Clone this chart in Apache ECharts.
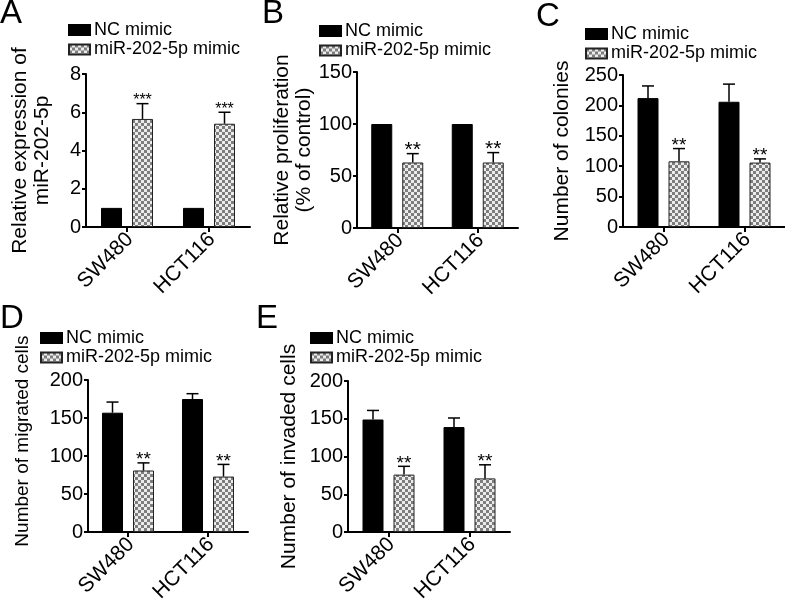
<!DOCTYPE html>
<html>
<head>
<meta charset="utf-8">
<script src="https://cdn.jsdelivr.net/npm/echarts@6/dist/echarts.min.js"></script>
<style>
html,body{margin:0;padding:0;background:#fff;}
#chart{width:785px;height:605px;}
</style>
</head>
<body>
<div id="chart"></div>
<script>
// ---------------- data ----------------
const categories = ['SW480', 'HCT116'];
const seriesNames = ['NC mimic', 'miR-202-5p mimic'];

// Panel A: Relative expression of miR-202-5p
const aTicks = [0, 2, 4, 6, 8];
const aNC = [1, 1];
const aNCErr = [0, 0];
const aMiR = [5.65, 5.4];
const aMiRErr = [0.8, 0.6];
const aStars = ['***', '***'];

// Panel B: Relative proliferation (% of control)
const bTicks = [0, 50, 100, 150];
const bNC = [100, 100];
const bNCErr = [0, 0];
const bMiR = [63, 63];
const bMiRErr = [8.5, 9.5];
const bStars = ['**', '**'];

// Panel C: Number of colonies
const cTicks = [0, 50, 100, 150, 200, 250];
const cNC = [212, 206];
const cNCErr = [20, 29];
const cMiR = [108, 106];
const cMiRErr = [21, 6];
const cStars = ['**', '**'];

// Panel D: Number of migrated cells
const dTicks = [0, 50, 100, 150, 200];
const dNC = [157, 175];
const dNCErr = [14, 7];
const dMiR = [81, 73];
const dMiRErr = [10, 16];
const dStars = ['**', '**'];

// Panel E: Number of invaded cells
const eTicks = [0, 50, 100, 150, 200];
const eNC = [149, 139];
const eNCErr = [12, 12];
const eMiR = [76, 71];
const eMiRErr = [11, 18];
const eStars = ['**', '**'];

// ---------------- layout / style ----------------
const FONT = '"Liberation Sans", Arial, Helvetica, sans-serif';
const BAR_W = 21;
const BAR_GAP_PX = 10;
const OFFSET = (BAR_W + BAR_GAP_PX) / 2;

const panels = [
  { letter: 'A', letterPos: [0, -3], grid: { left: 86, top: 74, width: 164, height: 153 },
    legendPos: [68, 21], ticks: aTicks, nc: aNC, ncErr: aNCErr, mir: aMiR, mirErr: aMiRErr, stars: aStars,
    name: 'Relative expression of\nmiR-202-5p', nameGap: 33, nameSize: 21, namePad: [0, 0, 0, 0], starSize: 16 },
  { letter: 'B', letterPos: [262, -3], grid: { left: 357, top: 72, width: 161, height: 156 },
    legendPos: [319, 22], ticks: bTicks, nc: bNC, ncErr: bNCErr, mir: bMiR, mirErr: bMiRErr, stars: bStars,
    name: 'Relative proliferation\n(% of control)', nameGap: 40, nameSize: 21, namePad: [0, 0, 0, 0], starSize: 21 },
  { letter: 'C', letterPos: [536, 0], grid: { left: 623, top: 75, width: 162, height: 152 },
    legendPos: [585, 25], ticks: cTicks, nc: cNC, ncErr: cNCErr, mir: cMiR, mirErr: cMiRErr, stars: cStars,
    name: 'Number of colonies', nameGap: 50, nameSize: 21, namePad: [0, 0, 0, 0], starSize: 19 },
  { letter: 'D', letterPos: [0, 302], grid: { left: 88, top: 380, width: 160, height: 153 },
    legendPos: [40, 329], ticks: dTicks, nc: dNC, ncErr: dNCErr, mir: dMiR, mirErr: dMiRErr, stars: dStars,
    name: 'Number of migrated cells', nameGap: 55, nameSize: 19, namePad: [0, 0, 0, 30], starSize: 19 },
  { letter: 'E', letterPos: [256, 302], grid: { left: 348, top: 381, width: 162, height: 151 },
    legendPos: [310, 329], ticks: eTicks, nc: eNC, ncErr: eNCErr, mir: eMiR, mirErr: eMiRErr, stars: eStars,
    name: 'Number of invaded cells', nameGap: 48, nameSize: 21, namePad: [0, 0, 0, 0], starSize: 19 }
];

// checkered pattern
const pc = document.createElement('canvas');
pc.width = 6; pc.height = 6;
const pctx = pc.getContext('2d');
pctx.fillStyle = '#ececec'; pctx.fillRect(0, 0, 6, 6);
pctx.fillStyle = '#7d7d7d'; pctx.fillRect(0, 0, 3, 3); pctx.fillRect(3, 3, 3, 3);
const checker = { image: pc, repeat: 'repeat' };

function errRenderer(offset, starSize) {
  return function (params, api) {
    const ci = api.value(0), v = api.value(1), e = api.value(2);
    const star = api.value(3);
    const base = api.coord([ci, v]);
    const top = api.coord([ci, v + e]);
    const x = base[0] + offset;
    const children = [];
    if (e > 0) {
      children.push({ type: 'line', shape: { x1: x, y1: base[1], x2: x, y2: top[1] }, style: { stroke: '#000', lineWidth: 1.5 } });
      children.push({ type: 'line', shape: { x1: x - 6, y1: top[1], x2: x + 6, y2: top[1] }, style: { stroke: '#000', lineWidth: 1.5 } });
    }
    if (star && star !== '-') {
      children.push({ type: 'text', style: { text: star, x: x, y: top[1] - 3, align: 'center', verticalAlign: 'middle',
        font: starSize + 'px ' + FONT, fill: '#000' } });
    }
    return { type: 'group', children: children };
  };
}

const option = { animation: false, backgroundColor: '#fff', title: [], grid: [], xAxis: [], yAxis: [], legend: [], series: [] };

panels.forEach(function (p, i) {
  option.title.push({ text: p.letter, left: p.letterPos[0], top: p.letterPos[1], padding: 0,
    textStyle: { fontSize: 33, fontWeight: 'normal', fontFamily: FONT, color: '#000' } });
  option.grid.push(Object.assign({ containLabel: false }, p.grid));
  option.xAxis.push({
    gridIndex: i, type: 'category', data: categories,
    axisLine: { show: true, lineStyle: { color: '#000', width: 2 } },
    axisTick: { show: true, alignWithLabel: true, length: 5, lineStyle: { color: '#000', width: 2 } },
    axisLabel: { rotate: 45, interval: 0, fontSize: 21, color: '#000', fontFamily: FONT, margin: 12,
      padding: [0, -4, 0, 0] },
    splitLine: { show: false }
  });
  const t = p.ticks;
  option.yAxis.push({
    gridIndex: i, type: 'value', min: t[0], max: t[t.length - 1], interval: t[1] - t[0],
    axisLine: { show: true, lineStyle: { color: '#000', width: 2 } },
    axisTick: { show: true, length: 4, lineStyle: { color: '#000', width: 2 } },
    axisLabel: { fontSize: 20, color: '#000', fontFamily: FONT, margin: 5 },
    splitLine: { show: false },
    name: p.name, nameLocation: 'middle', nameGap: p.nameGap, nameRotate: 90,
    nameTextStyle: { fontSize: p.nameSize, lineHeight: p.nameSize + 1, color: '#000', fontFamily: FONT, padding: p.namePad }
  });
  option.legend.push({
    orient: 'vertical', left: p.legendPos[0], top: p.legendPos[1], padding: 0,
    itemWidth: 21, itemHeight: 10, itemGap: 1.5, icon: 'rect', selectedMode: false,
    textStyle: { fontSize: 18, color: '#000', fontFamily: FONT, padding: [0, 0, 0, -1] },
    data: seriesNames
  });
  option.series.push({
    name: seriesNames[0], type: 'bar', xAxisIndex: i, yAxisIndex: i, data: p.nc,
    barWidth: BAR_W, barGap: (BAR_GAP_PX / BAR_W * 100) + '%',
    itemStyle: { color: '#000', borderColor: '#000', borderWidth: 1 }
  });
  option.series.push({
    name: seriesNames[1], type: 'bar', xAxisIndex: i, yAxisIndex: i, data: p.mir,
    barWidth: BAR_W, barGap: (BAR_GAP_PX / BAR_W * 100) + '%',
    itemStyle: { color: checker, borderColor: '#222', borderWidth: 1 }
  });
  option.series.push({
    name: 'err-nc-' + i, type: 'custom', xAxisIndex: i, yAxisIndex: i, silent: true, z: 5,
    renderItem: errRenderer(-OFFSET, p.starSize),
    encode: { x: 0, y: 1 },
    data: categories.map(function (c, j) { return [j, p.nc[j], p.ncErr[j], '-']; })
  });
  option.series.push({
    name: 'err-mir-' + i, type: 'custom', xAxisIndex: i, yAxisIndex: i, silent: true, z: 5,
    renderItem: errRenderer(OFFSET, p.starSize),
    encode: { x: 0, y: 1 },
    data: categories.map(function (c, j) { return [j, p.mir[j], p.mirErr[j], p.stars[j]]; })
  });
});

const chart = echarts.init(document.getElementById('chart'), null, { renderer: 'canvas' });
chart.setOption(option);
</script>
</body>
</html>
